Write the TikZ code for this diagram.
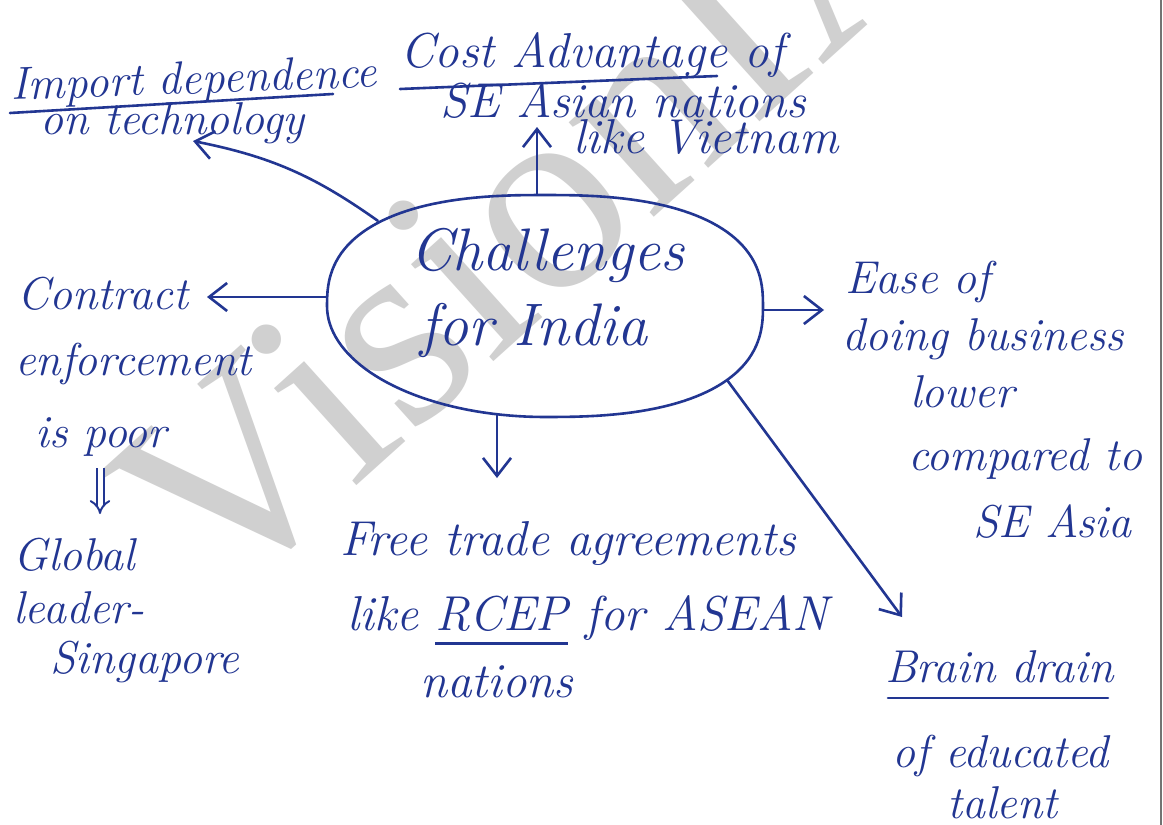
\documentclass[tikz,border=0pt]{standalone}
\usepackage{fontspec}
\newfontfamily\wmfont{Liberation Serif}
\usetikzlibrary{arrows.meta,calc}
\definecolor{ink}{RGB}{34,54,146}
\definecolor{wm}{RGB}{208,208,208}
\newcommand{\myul}[1]{\setbox0\hbox{#1}\rlap{\rule[-15pt]{\wd0}{2.6pt}}#1}
\begin{document}
\begin{tikzpicture}[x=1pt,y=-1pt,
  hw/.style={anchor=base west,inner sep=0pt,text=ink,font=\fontsize{46}{50}\selectfont\itshape},
  hwm/.style={hw,font=\fontsize{49}{52}\selectfont\itshape},
  big/.style={hw,font=\fontsize{60}{64}\selectfont\itshape},
  pen/.style={draw=ink,line width=2.6pt,line cap=round,line join=round},
  arr/.style={pen,-{Straight Barb[length=18pt,width=28pt,line width=2.6pt]}},
  dbl/.style={draw=ink,line width=2pt,double=white,double distance=5pt,-{Implies}}
  ]
\useasboundingbox (0,0) rectangle (1163,825);
\fill[white] (0,0) rectangle (1163,825);
\begin{scope}
  \clip (0,0) rectangle (1163,825);
  \node[anchor=base west,inner sep=0pt,rotate=42,text=wm,font=\wmfont\fontsize{277}{280}\selectfont] (wmk) at (216,612) {VisionIAS};
\end{scope}
\draw[black!55,line width=2pt] (1161,0) -- (1161,825);

% central oval
\node[rectangle,minimum width=436pt,minimum height=222pt,inner sep=0pt] (ch) at (545,306) {};
\draw[pen]
  plot[domain=0.2:89.8,samples=40] ({545+218*((cos(\x))^0.8)},{306-111*((sin(\x))^0.8)})
  -- plot[domain=90.2:179.8,samples=40] ({545-218*((-cos(\x))^0.8)},{306-111*((sin(\x))^0.8)})
  -- plot[domain=180:270,samples=40] ({545+218*cos(\x)},{306-111*sin(\x)})
  -- plot[domain=270.2:359.8,samples=40] ({545+218*((cos(\x))^0.8)},{306+111*((-sin(\x))^0.8)})
  -- cycle;
\node[big] (chal) at (410,270) {Challenges};
\node[big] (forI) at (420,345) {for India};

% top-left
\node[hw,rotate=2] (imp1) at (11,100) {Import dependence};
\node[hw] (imp2) at (40,134) {on technology};
\draw[pen] ($(imp1.base west)+(-1,13)$) -- ($(imp1.base west)+(322,-6)$);

% top
\node[hwm] (cost1) at (400,67) {Cost Advantage of};
\node[hwm] (cost2) at (440,117) {SE Asian nations};
\node[hwm] (cost3) at (573,153) {like Vietnam};
\draw[pen] ($(cost1.base west)+(0,22)$) -- ($(cost1.base west)+(317,9)$);

% left
\node[hw] (con1) at (17,309) {Contract};
\node[hw] (con2) at (15,375) {enforcement};
\node[hw] (con3) at (35,447) {is poor};
\node[hw] (glo1) at (13,570) {Global};
\node[hw] (glo2) at (13,623) {leader-};
\node[hw] (glo3) at (50,673) {Singapore};

% bottom
\node[hwm] (fta1) at (340,555) {Free trade agreements};
\node[hwm] (fta2) at (347,630) {like \myul{RCEP} for ASEAN};
\node[hwm] (fta3) at (420,697) {nations};

% right
\node[hw] (eod1) at (845,293) {Ease of};
\node[hw] (eod2) at (842,350) {doing business};
\node[hw] (eod3) at (910,407) {lower};
\node[hw] (eod4) at (908,470) {compared to};
\node[hw] (eod5) at (973,537) {SE Asia};

% bottom right
\node[hw] (bd1) at (885,682) {Brain drain};
\node[hw] (bd2) at (892,767) {of educated};
\node[hw] (bd3) at (947,818) {talent};
\draw[pen] ($(bd1.base west)+(3,16)$) -- ($(bd1.base west)+(223,16)$);

% arrow tips
\coordinate (tUp) at (537,127);
\coordinate (tUL) at (193,141);
\coordinate (tL) at (207,297);
\coordinate (tR) at (824,310);
\coordinate (tD) at (497,478);
\coordinate (tDR) at (902,617);
\coordinate (dA) at (100,468);
\coordinate (dB) at (100,514);

\draw[arr] ($(ch.north)+(-8,0)$) -- (tUp);
\draw[arr] ($(ch.north west)+(51,26)$) to[bend right=12] (tUL);
\draw[arr] ($(ch.west)+(0,-9)$) -- (tL);
\draw[arr] ($(ch.east)+(0,4)$) -- (tR);
\draw[arr] ($(ch.south)+(-48,-3)$) -- (tD);
\draw[arr] ($(ch.south east)+(-36,-37)$) -- (tDR);
\draw[dbl] (dA) -- (dB);
\end{tikzpicture}
\end{document}
